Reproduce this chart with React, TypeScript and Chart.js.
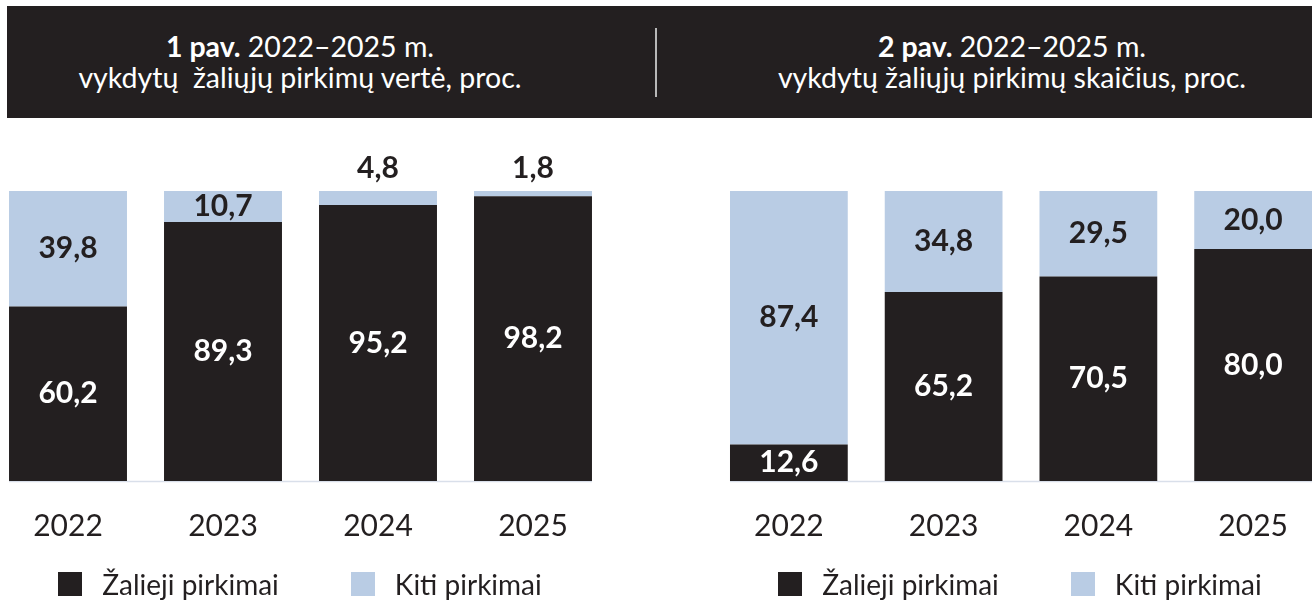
import React, { useEffect, useRef } from "react";
import { Chart, registerables } from "chart.js";

Chart.register(...registerables);

// ---- data ----
const years = ["2022", "2023", "2024", "2025"];
const seriesNames = ["Žalieji pirkimai", "Kiti pirkimai"];
const valueGreen = [60.2, 89.3, 95.2, 98.2];
const valueOther = [39.8, 10.7, 4.8, 1.8];
const countGreen = [12.6, 65.2, 70.5, 80.0];
const countOther = [87.4, 34.8, 29.5, 20.0];

const title1Bold = "1 pav.";
const title1Rest = " 2022–2025 m.";
const title1Line2 = "vykdytų  žaliųjų pirkimų vertė, proc.";
const title2Bold = "2 pav.";
const title2Rest = " 2022–2025 m.";
const title2Line2 = "vykdytų žaliųjų pirkimų skaičius, proc.";

// ---- style ----
const DARK = "#231f20";
const LIGHT = "#b9cce4";
const FONT = "Lato, 'Open Sans', sans-serif";
const seriesColors = [DARK, LIGHT];

const fmt = (v: number) => v.toFixed(1).replace(".", ",");

const baselinePlugin = {
  id: "baseline",
  beforeDatasetsDraw(chart: any) {
    const meta = chart.getDatasetMeta(0);
    if (!meta.data.length) return;
    const first = meta.data[0] as any;
    const last = meta.data[meta.data.length - 1] as any;
    const ctx = chart.ctx;
    const y = chart.chartArea.bottom + 0.5;
    ctx.save();
    ctx.strokeStyle = "#d9dfea";
    ctx.lineWidth = 1.5;
    ctx.beginPath();
    ctx.moveTo(first.x - first.width / 2, y);
    ctx.lineTo(last.x + last.width / 2, y);
    ctx.stroke();
    ctx.restore();
  },
};

const labelPlugin = {
  id: "barLabels",
  afterDatasetsDraw(chart: any) {
    const ctx = chart.ctx;
    ctx.save();
    ctx.font = `bold 30px ${FONT}`;
    ctx.textAlign = "center";
    ctx.textBaseline = "middle";
    chart.data.datasets.forEach((ds: any, di: number) => {
      const meta = chart.getDatasetMeta(di);
      meta.data.forEach((bar: any, i: number) => {
        const v = ds.data[i] as number;
        const { x, y, base } = bar.getProps(["x", "y", "base"], true);
        const txt = fmt(v);
        if (v < 8) {
          ctx.fillStyle = DARK;
          ctx.fillText(txt, x, Math.min(y, base) - 23);
        } else {
          ctx.fillStyle = di === 0 ? "#ffffff" : DARK;
          ctx.fillText(txt, x, (y + base) / 2);
        }
      });
    });
    ctx.restore();
  },
};

function BarChart(props: {
  green: number[];
  other: number[];
  left: number;
  width: number;
  padLeft: number;
  padRight: number;
}) {
  const ref = useRef<HTMLCanvasElement | null>(null);
  useEffect(() => {
    if (!ref.current) return;
    const chart = new Chart(ref.current, {
      type: "bar",
      data: {
        labels: years,
        datasets: [
          {
            label: seriesNames[0],
            data: props.green,
            backgroundColor: seriesColors[0],
            borderWidth: 0,
            barPercentage: 0.761,
            categoryPercentage: 1,
          },
          {
            label: seriesNames[1],
            data: props.other,
            backgroundColor: seriesColors[1],
            borderWidth: 0,
            barPercentage: 0.761,
            categoryPercentage: 1,
          },
        ],
      },
      options: {
        animation: false,
        responsive: false,
        devicePixelRatio: 1,
        layout: {
          padding: { top: 61, left: props.padLeft, right: props.padRight, bottom: 0 },
        },
        plugins: {
          legend: { display: false },
          tooltip: { enabled: false },
        },
        scales: {
          x: {
            stacked: true,
            grid: { display: false, drawTicks: false, tickLength: 0 },
            border: { display: false },
            ticks: {
              color: DARK,
              padding: 27,
              font: { family: FONT, size: 30, weight: "normal" },
            },
          },
          y: {
            stacked: true,
            display: false,
            min: 0,
            max: 100,
          },
        },
      },
      plugins: [baselinePlugin, labelPlugin],
    });
    return () => chart.destroy();
  }, []);
  return (
    <canvas
      ref={ref}
      width={props.width}
      height={441}
      style={{ position: "absolute", left: props.left, top: 130, width: props.width, height: 441 }}
    />
  );
}

function Legend(props: { left: number; width: number }) {
  return (
    <div
      style={{
        position: "absolute",
        left: props.left,
        top: 566,
        width: props.width,
        height: 36,
        display: "flex",
        justifyContent: "center",
        alignItems: "center",
        gap: 72,
        fontFamily: FONT,
        fontSize: 28,
        color: DARK,
      }}
    >
      {seriesNames.map((n, i) => (
        <div key={n} style={{ display: "flex", alignItems: "center" }}>
          <div style={{ width: 24, height: 24, background: seriesColors[i], marginRight: 20 }} />
          <span style={{ lineHeight: "36px", whiteSpace: "pre" }}>{n}</span>
        </div>
      ))}
    </div>
  );
}

function Title(props: { left: number; bold: string; rest: string; line2: string }) {
  return (
    <div
      style={{
        position: "absolute",
        left: props.left,
        top: 31,
        width: 600,
        textAlign: "center",
        color: "#ffffff",
        fontFamily: FONT,
        fontSize: 28.5,
        lineHeight: "31px",
        whiteSpace: "pre",
      }}
    >
      <div>
        <b>{props.bold}</b>
        {props.rest}
      </div>
      <div>{props.line2}</div>
    </div>
  );
}

export default function App() {
  return (
    <div
      style={{
        position: "fixed",
        left: 0,
        top: 0,
        width: 1312,
        height: 600,
        overflow: "hidden",
        background: "#ffffff",
        fontFamily: FONT,
      }}
    >
      <div style={{ position: "absolute", left: 7, top: 6, width: 1305, height: 112, background: DARK }} />
      <div style={{ position: "absolute", left: 655, top: 28, width: 2, height: 69, background: "#b8b8b8" }} />
      <Title left={0} bold={title1Bold} rest={title1Rest} line2={title1Line2} />
      <Title left={712} bold={title2Bold} rest={title2Rest} line2={title2Line2} />
      <BarChart green={valueGreen} other={valueOther} left={-20} width={660} padLeft={10.5} padRight={29.5} />
      <BarChart green={countGreen} other={countOther} left={660} width={672} padLeft={51.5} padRight={1.5} />
      <Legend left={0} width={600} />
      <Legend left={720} width={600} />
    </div>
  );
}
